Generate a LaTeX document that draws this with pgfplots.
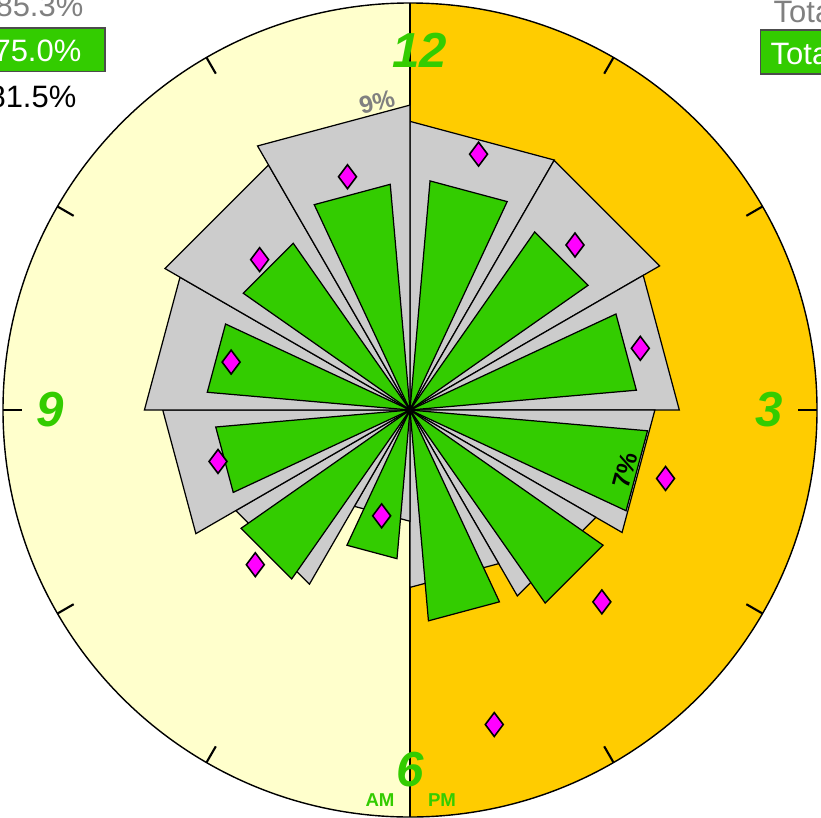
\documentclass[border=0pt]{standalone}
\usepackage{fontspec}
\setmainfont{Liberation Sans}
\usepackage{pgfplots}
\pgfplotsset{compat=1.18}
\usepgfplotslibrary{polar}

\definecolor{amyel}{HTML}{FFFFCC}
\definecolor{pmgold}{HTML}{FFCC00}
\definecolor{wgrey}{HTML}{CCCCCC}
\definecolor{wgreen}{HTML}{33CC00}
\definecolor{dmag}{HTML}{FF00FF}
\definecolor{txtgrey}{HTML}{808080}

\tikzset{hourlbl/.style={text=wgreen, font=\fontsize{14}{14}\selectfont\bfseries\itshape}}

% one hour wedge: start angle, end angle, value (%), style
\newcommand{\hourwedge}[4]{\addplot[#4] coordinates {(0,0) (#1,#3) (#2,#3) (0,0)};}

\begin{document}
\begin{tikzpicture}
\begin{scope}
\clip (-4.10,-4.07) rectangle (4.11,4.10);
% AM / PM halves
\fill[amyel] (0,0) -- (0,4.07) arc[start angle=90,end angle=270,radius=4.07cm] -- cycle;
\fill[pmgold] (0,0) -- (0,4.07) arc[start angle=90,end angle=-90,radius=4.07cm] -- cycle;
\draw[line width=0.6pt] (0,4.07) -- (0,-4.07);

\begin{polaraxis}[
    scale only axis, width=8.14cm, height=8.14cm,
    at={(0,0)}, anchor=center,
    xmin=0, xmax=360, ymin=0, ymax=12,
    hide axis, clip=false,
    greyw/.style={fill=wgrey, draw=black, line width=0.35pt},
    greenw/.style={fill=wgreen, draw=black, line width=0.35pt},
]
% all hours, grey series
\hourwedge{90}{60}{8.51}{greyw}
\hourwedge{60}{30}{8.50}{greyw}
\hourwedge{30}{0}{7.94}{greyw}
\hourwedge{360}{330}{7.22}{greyw}
\hourwedge{330}{300}{6.33}{greyw}
\hourwedge{300}{270}{5.23}{greyw}
\hourwedge{270}{240}{3.28}{greyw}
\hourwedge{240}{210}{5.93}{greyw}
\hourwedge{210}{180}{7.29}{greyw}
\hourwedge{180}{150}{7.83}{greyw}
\hourwedge{150}{120}{8.34}{greyw}
\hourwedge{120}{90}{8.99}{greyw}
% green series
\hourwedge{85}{65}{6.78}{greenw}
\hourwedge{55}{35}{6.41}{greenw}
\hourwedge{25}{5}{6.70}{greenw}
\hourwedge{355}{335}{7.03}{greenw}
\hourwedge{325}{305}{6.95}{greenw}
\hourwedge{295}{275}{6.24}{greenw}
\hourwedge{265}{245}{4.40}{greenw}
\hourwedge{235}{215}{6.08}{greenw}
\hourwedge{205}{185}{5.75}{greenw}
\hourwedge{175}{155}{6.00}{greenw}
\hourwedge{145}{125}{6.00}{greenw}
\hourwedge{115}{95}{6.68}{greenw}
% diamonds
\addplot[only marks, mark=diamond*, mark size=3.4pt,
    mark options={fill=dmag, draw=black, line width=0.45pt}] coordinates {
    (75,7.81) (45,6.88) (15,7.03) (345,7.80) (315,8.00) (285,9.60)
    (255,3.23) (225,6.45) (195,5.86) (165,5.46) (135,6.27) (105,7.12)
};
% hour ticks
\pgfplotsinvokeforeach{0,30,...,330}{
    \draw[line width=0.6pt] (axis cs:#1,11.45) -- (axis cs:#1,12);
}
\node[hourlbl] at (axis cs:88.5,10.6) {12};
\node[hourlbl] at (axis cs:0,10.6) {3};
\node[hourlbl] at (axis cs:270,10.6) {6};
\node[hourlbl] at (axis cs:180,10.6) {9};
\end{polaraxis}

\draw[line width=0.4pt] (0,0) circle[radius=4.07cm];

% value labels
\node[text=txtgrey, font=\fontsize{7}{7}\selectfont\bfseries, rotate=14.5] at (-0.33,3.08) {9\%};
\node[text=black, font=\fontsize{7}{7}\selectfont\bfseries, rotate=75, inner sep=0pt] at (2.15,-0.60) {7\%};
\node[text=wgreen, font=\fontsize{5.3}{5.3}\selectfont\bfseries] at (-0.30,-3.90) {AM};
\node[text=wgreen, font=\fontsize{5.3}{5.3}\selectfont\bfseries] at (0.32,-3.90) {PM};

% totals (cut by the frame)
\node[text=txtgrey, font=\fontsize{8.8}{8.8}\selectfont, anchor=base east, inner sep=0pt] at (-3.26,3.93) {85.3\%};
\draw[fill=wgreen, draw=black!70, line width=0.4pt] (-4.3,3.82) rectangle (-3.05,3.383);
\node[text=white, font=\fontsize{8.8}{8.8}\selectfont, anchor=base east, inner sep=0pt] at (-3.28,3.48) {75.0\%};
\node[text=black, font=\fontsize{8.8}{8.8}\selectfont, anchor=base east, inner sep=0pt] at (-3.33,3.02) {81.5\%};
\node[text=txtgrey, font=\fontsize{8.8}{8.8}\selectfont, anchor=base west, inner sep=0pt] at (3.63,3.87) {Total};
\draw[fill=wgreen, draw=black!70, line width=0.4pt] (3.507,3.80) rectangle (4.5,3.36);
\node[text=white, font=\fontsize{8.8}{8.8}\selectfont, anchor=base west, inner sep=0pt] at (3.60,3.45) {Total};
\end{scope}
\pgfresetboundingbox
\path[use as bounding box] (-4.10,-4.07) rectangle (4.11,4.10);
\end{tikzpicture}
\end{document}
